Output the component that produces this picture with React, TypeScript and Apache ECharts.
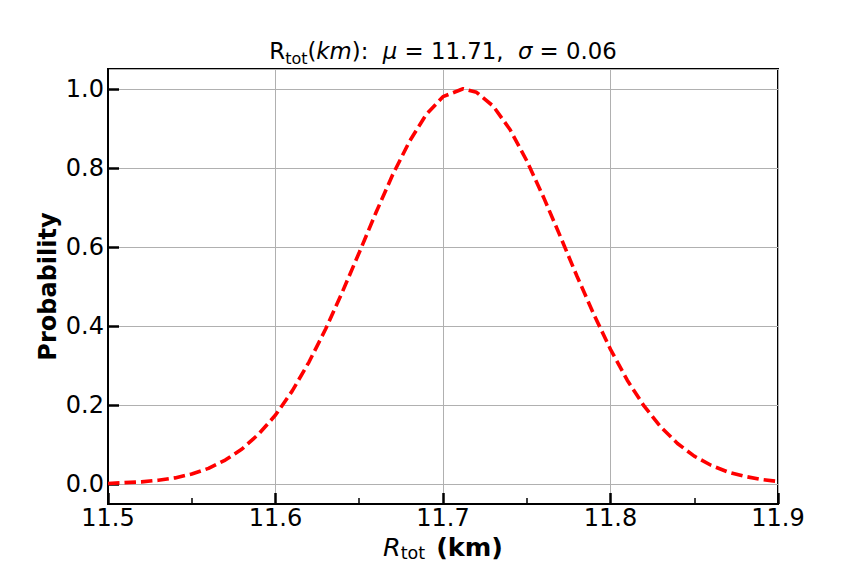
import React, { useEffect, useRef } from 'react';
import * as echarts from 'echarts';

// R_tot (km) sample positions
const radiusKm = [
  11.50, 11.51, 11.52, 11.53, 11.54, 11.55, 11.56, 11.57, 11.58, 11.59,
  11.60, 11.61, 11.62, 11.63, 11.64, 11.65, 11.66, 11.67, 11.68, 11.69,
  11.70, 11.712, 11.72, 11.73, 11.74, 11.75, 11.76, 11.77, 11.78, 11.79,
  11.80, 11.81, 11.82, 11.83, 11.84, 11.85, 11.86, 11.87, 11.88, 11.89,
  11.90,
];

// Probability values
const probability = [
  0.002, 0.004, 0.006, 0.010, 0.016, 0.026, 0.040, 0.061, 0.089, 0.127,
  0.175, 0.236, 0.309, 0.393, 0.487, 0.586, 0.687, 0.783, 0.867, 0.935,
  0.980, 1.000, 0.991, 0.956, 0.897, 0.818, 0.726, 0.627, 0.526, 0.430,
  0.341, 0.263, 0.198, 0.145, 0.103, 0.071, 0.048, 0.031, 0.020, 0.012,
  0.007,
];

const xTickLabels = ['11.5', '11.6', '11.7', '11.8', '11.9'];
const yTickLabels = ['0.0', '0.2', '0.4', '0.6', '0.8', '1.0'];

const FONT = 'DejaVu Sans';

export default function App() {
  const ref = useRef<HTMLDivElement>(null);

  useEffect(() => {
    if (!ref.current) return;
    const chart = echarts.init(ref.current, undefined, { renderer: 'svg' });
    const seriesData = radiusKm.map((x, i) => [x, probability[i]]);

    chart.setOption({
      animation: false,
      backgroundColor: '#ffffff',
      textStyle: { fontFamily: FONT },
      title: {
        text: '{n|R}{s|tot}{n|(}{i|km}{n|):  }{i|μ}{n| = 11.71,  }{i|σ}{n| = 0.06}',
        left: 443,
        top: 36,
        textAlign: 'center',
        padding: 0,
        textStyle: {
          fontWeight: 'normal',
          rich: {
            n: { fontSize: 22.8, fontFamily: FONT, fontWeight: 'normal', color: '#000', lineHeight: 30 },
            i: { fontSize: 22.8, fontFamily: FONT, fontWeight: 'normal', fontStyle: 'italic', color: '#000', lineHeight: 30 },
            s: { fontSize: 16, fontFamily: FONT, fontWeight: 'normal', color: '#000', verticalAlign: 'bottom', lineHeight: 30 },
          },
        },
      },
      grid: {
        left: 108,
        right: 86,
        top: 69,
        bottom: 72,
        show: true,
        borderColor: '#000',
        borderWidth: 2,
        backgroundColor: 'transparent',
      },
      xAxis: {
        type: 'value',
        min: 11.5,
        max: 11.9,
        interval: 0.1,
        axisLine: { show: true, onZero: false, lineStyle: { color: '#000', width: 2 } },
        axisTick: { show: true, inside: true, length: 11, lineStyle: { color: '#000', width: 2.5 } },
        minorTick: { show: true, splitNumber: 2, length: 6, lineStyle: { color: '#000', width: 1.5 } },
        splitLine: { show: true, lineStyle: { color: '#b0b0b0', width: 1 } },
        axisLabel: {
          color: '#000',
          fontSize: 24,
          fontFamily: FONT,
          margin: 2,
          formatter: (v: number) => {
            const s = v.toFixed(1);
            return xTickLabels.includes(s) ? s : '';
          },
        },
        name: '{ri|R}{s|tot}{g| }{b|(km)}',
        nameLocation: 'middle',
        nameGap: 28,
        nameMoveOverlap: false,
        nameTextStyle: {
          rich: {
            ri: { fontSize: 25.5, fontFamily: FONT, fontStyle: 'italic', color: '#000', lineHeight: 30 },
            b: { fontSize: 25.5, fontFamily: FONT, fontWeight: 'bold', color: '#000', lineHeight: 30 },
            g: { fontSize: 25.5, fontFamily: FONT, color: '#000', lineHeight: 30, width: 11 },
            s: { fontSize: 17.5, fontFamily: FONT, color: '#000', verticalAlign: 'bottom', lineHeight: 30 },
          },
        },
      },
      yAxis: {
        type: 'value',
        min: -0.05,
        max: 1.05,
        splitNumber: 5,
        axisLine: { show: true, onZero: false, lineStyle: { color: '#000', width: 2 } },
        axisTick: { show: true, inside: true, length: 11, lineStyle: { color: '#000', width: 2.5 } },
        splitLine: { show: true, lineStyle: { color: '#b0b0b0', width: 1 } },
        axisLabel: {
          color: '#000',
          fontSize: 24,
          fontFamily: FONT,
          margin: 4,
          showMinLabel: false,
          showMaxLabel: false,
          formatter: (v: number) => {
            const s = v.toFixed(1);
            return yTickLabels.includes(s) && Math.abs(v * 5 - Math.round(v * 5)) < 1e-6 ? s : '';
          },
        },
        name: 'Probability',
        nameLocation: 'middle',
        nameGap: 48,
        nameMoveOverlap: false,
        nameTextStyle: { fontSize: 24, fontFamily: FONT, fontWeight: 'bold', color: '#000' },
      },
      series: [
        {
          type: 'line',
          data: seriesData,
          showSymbol: false,
          smooth: false,
          lineStyle: { color: '#ff0000', width: 3.6, type: [11.5, 5], cap: 'butt' },
        },
      ],
    });

    return () => chart.dispose();
  }, []);

  return (
    <div
      ref={ref}
      style={{ position: 'fixed', left: 0, top: 0, width: 864, height: 576, background: '#fff' }}
    />
  );
}
